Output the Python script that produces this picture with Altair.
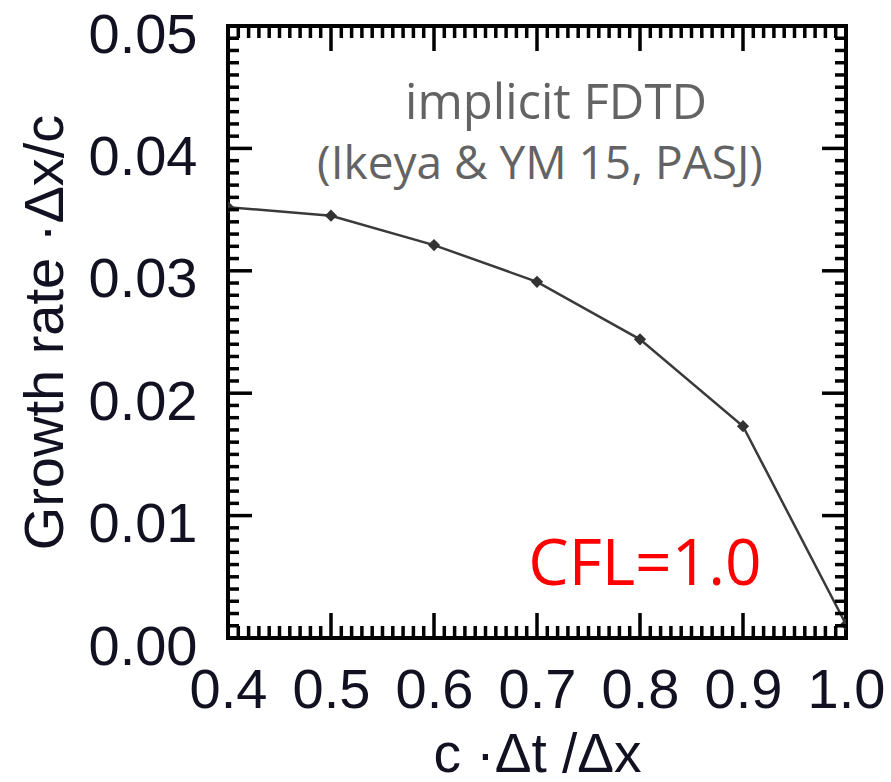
import altair as alt
import pandas as pd

# data
cfl = [0.4, 0.5, 0.6, 0.7, 0.8, 0.9, 1.0]
growth = [0.0352, 0.0345, 0.0321, 0.0291, 0.0244, 0.0173, 0.0011]

x_labels = [0.4, 0.5, 0.6, 0.7, 0.8, 0.9, 1.0]
y_labels = [0.00, 0.01, 0.02, 0.03, 0.04, 0.05]
x_major = [0.5, 0.6, 0.7, 0.8, 0.9]
y_major = [0.01, 0.02, 0.03, 0.04]
x_minor = [round(0.4 + i * 0.01, 2) for i in range(1, 60) if i % 10]
y_minor = [round(i * 0.001, 3) for i in range(1, 50) if i % 10]

W, H = 618, 612
MAJ, MIN = 25, 12

df = pd.DataFrame({"x": cfl, "y": growth})
xs = alt.Scale(domain=[0.4, 1.0], nice=False, zero=False)
ys = alt.Scale(domain=[0.0, 0.05], nice=False, zero=True)

lab_font = "Liberation Sans"
lab_col = "#111122"

base = alt.Chart(df)
line = base.mark_line(color="#3a3a3a", strokeWidth=2.5, clip=True).encode(
    x=alt.X("x:Q", scale=xs, axis=alt.Axis(
        values=x_labels, format=".1f", tickSize=0, domain=False, grid=False,
        labelFont=lab_font, labelFontSize=56, labelColor=lab_col,
        labelPadding=69, labelBaseline="alphabetic", labelFlush=False,
        labelOverlap=False, labelBound=False,
        title="c ·Δt /Δx", titleFont=lab_font, titleFontSize=55,
        titleFontWeight="normal", titleColor=lab_col,
        titleX=W / 2, titleY=133, titleBaseline="alphabetic")),
    y=alt.Y("y:Q", scale=ys, axis=alt.Axis(
        values=y_labels, format=".2f", tickSize=0, domain=False, grid=False,
        labelFont=lab_font, labelFontSize=56, labelColor=lab_col,
        labelPadding=31, labelBaseline="alphabetic", labelOffset=26,
        labelFlush=False, labelOverlap=False, labelBound=False,
        title="Growth rate ·Δx/c", titleFont=lab_font, titleFontSize=56,
        titleFontWeight="normal", titleColor=lab_col,
        titleX=-166, titleY=H / 2, titleAngle=270, titleBaseline="alphabetic",
        titleAlign="center")),
)
pts = base.mark_point(shape="diamond", filled=True, size=150, color="#333333",
                      opacity=1, clip=True).encode(
    x=alt.X("x:Q", scale=xs), y=alt.Y("y:Q", scale=ys))

TW = 3.5

def xticks(vals, length):
    d = pd.DataFrame({"v": vals})
    bot = alt.Chart(d).mark_rule(color="black", strokeWidth=TW).encode(
        x=alt.X("v:Q", scale=xs), y=alt.value(H), y2=alt.value(H - length))
    top = alt.Chart(d).mark_rule(color="black", strokeWidth=TW).encode(
        x=alt.X("v:Q", scale=xs), y=alt.value(0), y2=alt.value(length))
    return bot + top

def yticks(vals, length):
    d = pd.DataFrame({"v": vals})
    lft = alt.Chart(d).mark_rule(color="black", strokeWidth=TW).encode(
        y=alt.Y("v:Q", scale=ys), x=alt.value(0), x2=alt.value(length))
    rgt = alt.Chart(d).mark_rule(color="black", strokeWidth=TW).encode(
        y=alt.Y("v:Q", scale=ys), x=alt.value(W), x2=alt.value(W - length))
    return lft + rgt

ann_font = "Open Sans"
t1 = alt.Chart(pd.DataFrame({"t": ["implicit FDTD"]})).mark_text(
    font=ann_font, fontSize=49, color="#636363", align="center",
    baseline="alphabetic").encode(text="t:N", x=alt.value(328), y=alt.value(93))
t2 = alt.Chart(pd.DataFrame({"t": ["(Ikeya & YM 15, PASJ)"]})).mark_text(
    font=ann_font, fontSize=46, color="#636363", align="center",
    baseline="alphabetic").encode(text="t:N", x=alt.value(312), y=alt.value(153))
t3 = alt.Chart(pd.DataFrame({"t": ["CFL=1.0"]})).mark_text(
    font=ann_font, fontSize=64, color="#ff0000", align="center",
    baseline="alphabetic").encode(text="t:N", x=alt.value(417), y=alt.value(559))

chart = alt.layer(
    line, pts,
    xticks(x_minor, MIN), xticks(x_major, MAJ),
    yticks(y_minor, MIN - 1), yticks(y_major, MAJ - 1),
    t1, t2, t3,
).properties(
    width=W, height=H,
    autosize=alt.AutoSizeParams(type="none"),
    padding={"left": 228, "top": 26, "right": 45, "bottom": 144},
).configure_view(stroke="black", strokeWidth=4)

chart.save("out.html", embed_options={"renderer": "svg", "actions": False})
